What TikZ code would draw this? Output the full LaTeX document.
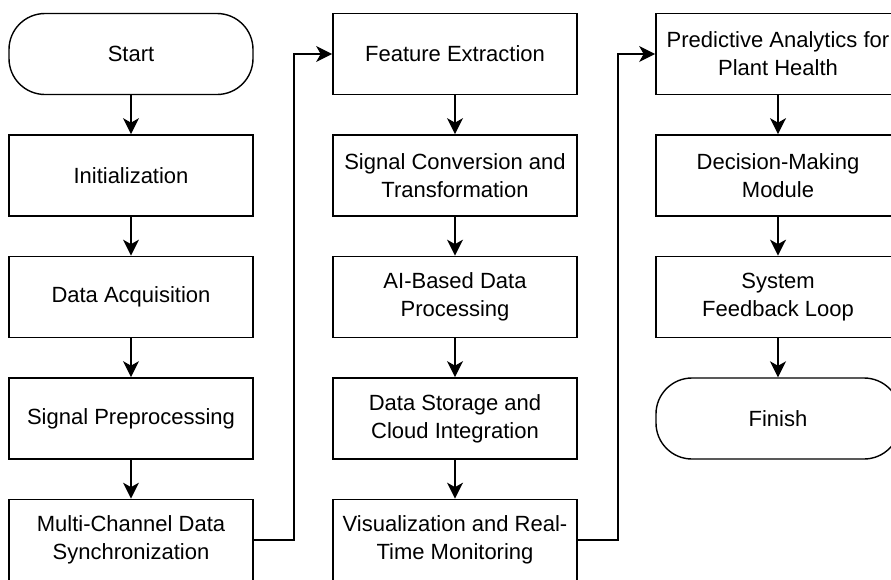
\documentclass[tikz,border=0pt]{standalone}
\usepackage{fontspec}
\setmainfont{Liberation Sans}
\usetikzlibrary{arrows.meta}

\tikzset{
  stepbox/.style={draw, line width=1.7pt, minimum width=244pt, minimum height=81pt,
    inner sep=0pt, align=center, font=\fontsize{22}{28}\selectfont},
  termbox/.style={stepbox, line width=1.4pt, rounded corners=36pt},
  arr/.style={line width=1.5pt, -{Stealth[length=16pt,width=16pt,inset=4.5pt]}}
}

\begin{document}
\begin{tikzpicture}[x=1pt,y=-1pt]
        \useasboundingbox (0,0) rectangle (891,579);

        % first column
        \node[termbox] (start) at (131,54) {Start};
        \node[stepbox] (init) at (131,175.5) {Initialization};
        \node[stepbox] (acq) at (131,297) {Data Acquisition};
        \node[stepbox] (pre) at (131,418.5) {Signal Preprocessing};
        \node[stepbox] (sync) at (131,540) {Multi-Channel Data\\Synchronization};

        % second column
        \node[stepbox] (feat) at (455,54) {Feature Extraction};
        \node[stepbox] (conv) at (455,175.5) {Signal Conversion and\\Transformation};
        \node[stepbox] (ai) at (455,297) {AI-Based Data\\Processing};
        \node[stepbox] (store) at (455,418.5) {Data Storage and\\Cloud Integration};
        \node[stepbox] (vis) at (455,540) {Visualization and Real-\\Time Monitoring};

        % third column
        \node[stepbox] (pred) at (778,54) {Predictive Analytics for\\Plant Health};
        \node[stepbox] (dec) at (778,175.5) {Decision-Making\\Module};
        \node[stepbox] (loop) at (778,297) {System\\Feedback Loop};
        \node[termbox] (finish) at (778,418.5) {Finish};

        %% arrows
        \draw[arr] (start) -- (init);
        \draw[arr] (init) -- (acq);
        \draw[arr] (acq) -- (pre);
        \draw[arr] (pre) -- (sync);
        \draw[arr] (sync.east) -- ++(40,0) |- (feat.west);
        \draw[arr] (feat) -- (conv);
        \draw[arr] (conv) -- (ai);
        \draw[arr] (ai) -- (store);
        \draw[arr] (store) -- (vis);
        \draw[arr] (vis.east) -- ++(40,0) |- (pred.west);
        \draw[arr] (pred) -- (dec);
        \draw[arr] (dec) -- (loop);
        \draw[arr] (loop) -- (finish);
\end{tikzpicture}
\end{document}
